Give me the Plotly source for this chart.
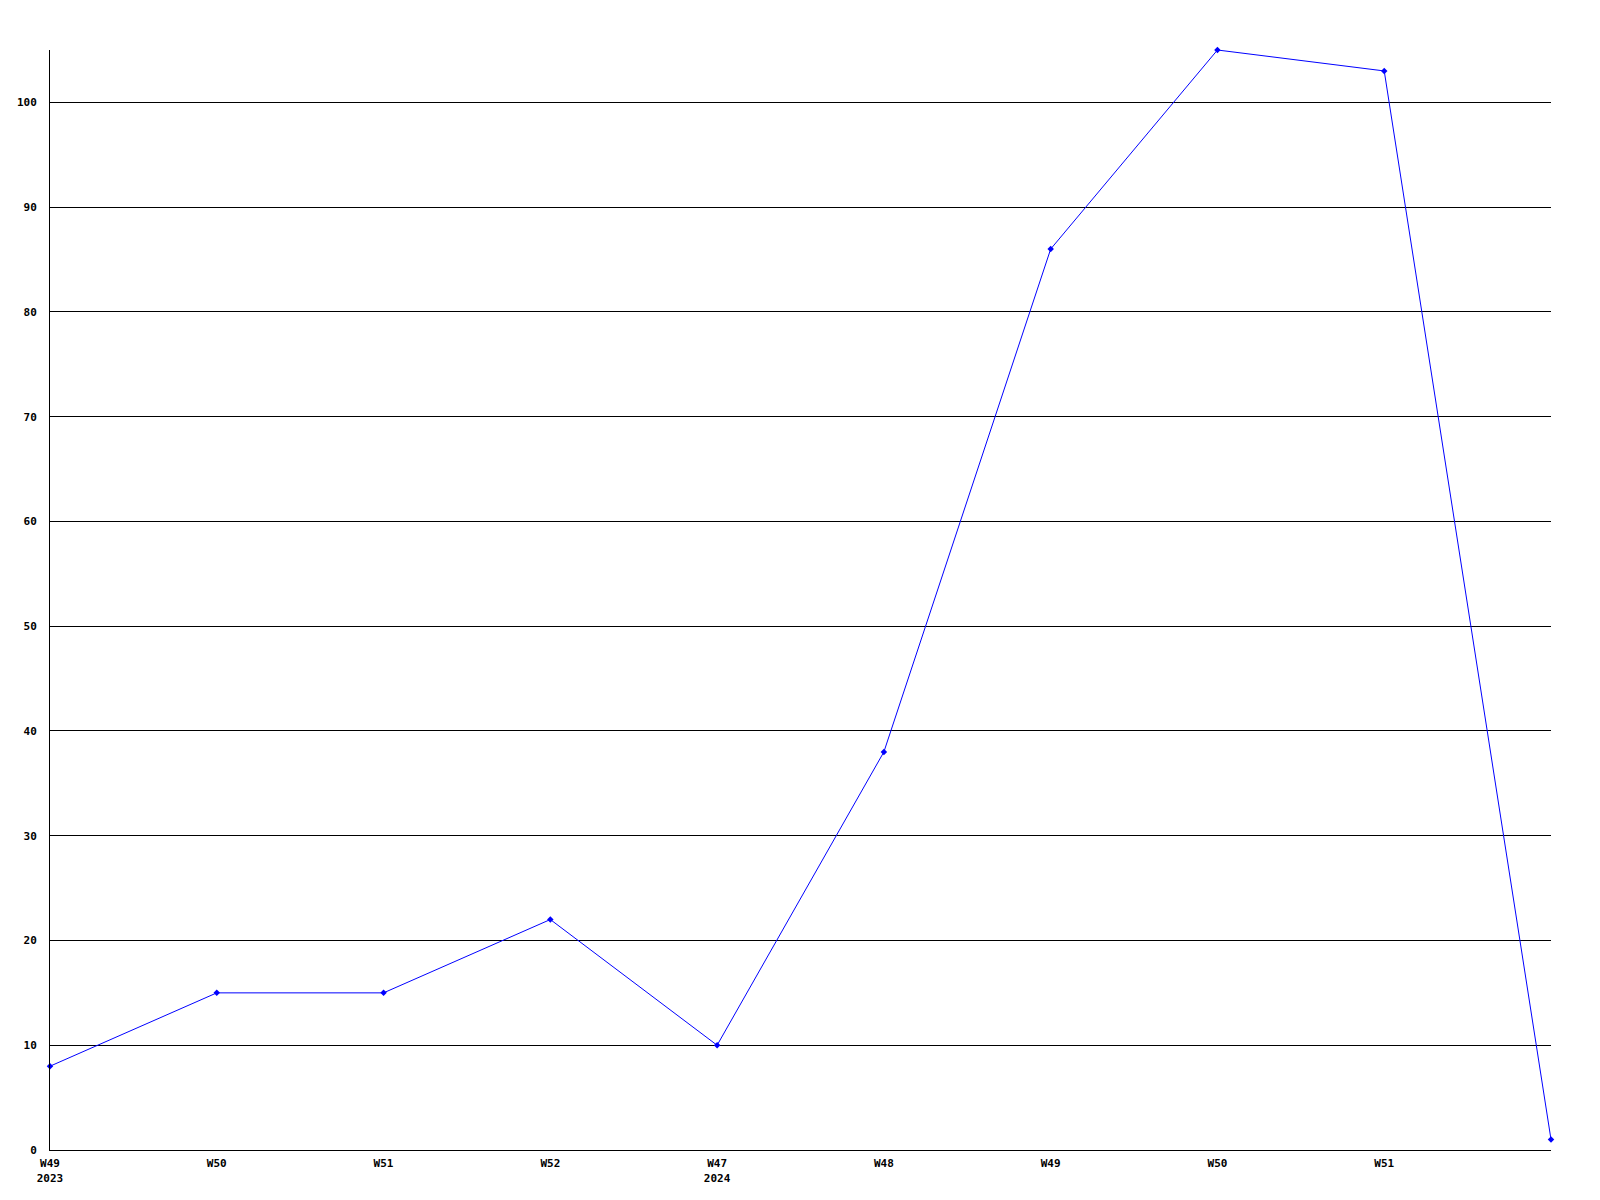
import plotly.graph_objects as go

weeks = ["W49", "W50", "W51", "W52", "W47", "W48", "W49", "W50", "W51", ""]
years = ["2023", "", "", "", "2024", "", "", "", "", ""]
values = [8, 15, 15, 22, 10, 38, 86, 105, 103, 1]
y_ticks = [0, 10, 20, 30, 40, 50, 60, 70, 80, 90, 100]

x = list(range(len(values)))
ticktext = [w + ("<br>" + y if y else "") for w, y in zip(weeks, years)]

fig = go.Figure()
fig.add_trace(go.Scatter(
    x=x, y=values, mode="lines+markers",
    line=dict(color="#0000ff", width=1),
    marker=dict(color="#0000ff", size=5, symbol="diamond"),
    showlegend=False, hoverinfo="skip", cliponaxis=False,
))

font = dict(family="DejaVu Sans Mono", size=11, color="#000000")
fig.update_layout(
    width=1584, height=1184,
    margin=dict(l=42, r=41, t=42, b=42, pad=0),
    paper_bgcolor="white", plot_bgcolor="white",
    font=font,
    xaxis=dict(
        range=[0, 9], tickvals=x[:-1], ticktext=ticktext[:-1], automargin=False,
        showgrid=False, zeroline=False, showline=True, linecolor="black", linewidth=1,
        ticks="", ticklabelstandoff=3, tickfont=dict(family="DejaVu Sans Mono", size=11, weight="bold"),
    ),
    yaxis=dict(
        range=[0, 105], tickvals=y_ticks, automargin=False,
        showgrid=True, gridcolor="black", gridwidth=1, zeroline=False,
        showline=True, linecolor="black", linewidth=1,
        ticks="", ticklabelstandoff=10, tickfont=dict(family="DejaVu Sans Mono", size=11, weight="bold"),
    ),
)
fig.write_html("out.html")
